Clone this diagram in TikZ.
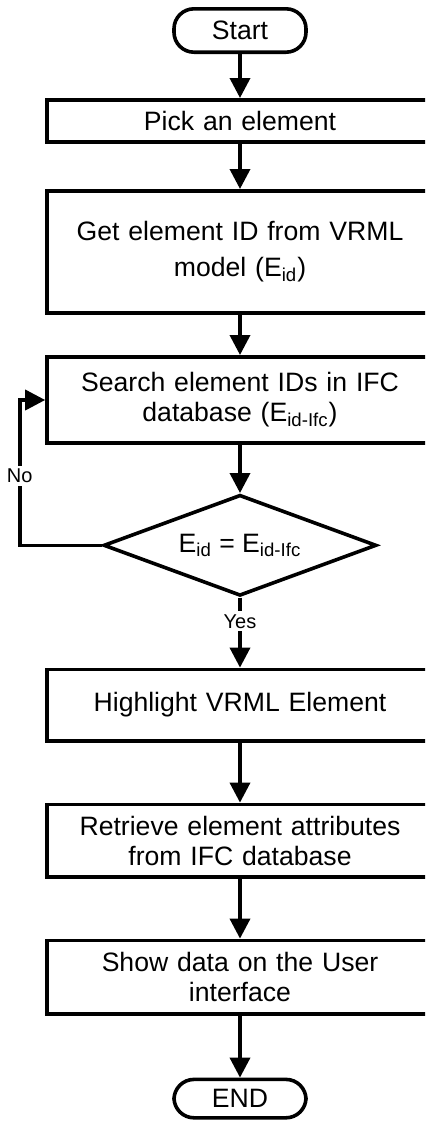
\documentclass[tikz,border=0pt]{standalone}
\usepackage{fontspec}
\setmainfont{Liberation Sans}
\usetikzlibrary{shapes.geometric,arrows.meta,positioning}
\tikzset{
  procnode/.style={rectangle,draw=black,line width=1.8pt,minimum width=193pt,
    text width=185pt,align=center,font=\fontsize{13.3}{15}\selectfont,inner sep=3pt},
  termnode/.style={rectangle,draw=black,line width=1.8pt,rounded corners=10pt,
    minimum width=66pt,minimum height=21.7pt,font=\fontsize{13.3}{15}\selectfont},
  decnode/.style={diamond,draw=black,line width=1.8pt,aspect=2.65,minimum width=136.5pt,
    minimum height=50.5pt,inner sep=0pt,font=\fontsize{13.3}{15}\selectfont},
  lbl/.style={fill=white,font=\fontsize{10}{12}\selectfont,inner sep=1.5pt},
  arrow/.style={-{Triangle[length=10pt,width=10pt]},line width=1.8pt},
}

\begin{document}
\begin{tikzpicture}
  \useasboundingbox (0,0) rectangle (212.5pt,-560.5pt);
  \clip (0,0) rectangle (212.5pt,-560.5pt);

  \node[termnode] (start) at (120pt,-15.25pt) {Start};
  \node[procnode, minimum height=21.2pt, below=22pt of start] (pick) {Pick an element};
  \node[procnode, minimum height=61.2pt, below=22.5pt of pick] (getid)
    {Get element ID from VRML\\[3pt] model (E\textsubscript{id})};
  \node[procnode, minimum height=43.2pt, below=20pt of getid] (search)
    {Search element IDs in IFC\\ database (E\textsubscript{id-Ifc})};
  \node[decnode, below=24pt of search] (match)
    {E\textsubscript{id} = E\textsubscript{id-Ifc}};
  \node[procnode, minimum height=35.7pt, below=35pt of match] (light)
    {Highlight VRML Element};
  \node[procnode, minimum height=36.2pt, below=30pt of light] (fetch)
    {Retrieve element attributes\\ from IFC database};
  \node[procnode, minimum height=36.7pt, below=30pt of fetch] (show)
    {Show data on the User\\ interface};
  \node[termnode, minimum height=19.2pt, below=31pt of show] (finish) {END};

  \draw[arrow] (start)--(pick);
  \draw[arrow] (pick)--(getid);
  \draw[arrow] (getid)--(search);
  \draw[arrow] (search)--(match);
  \draw[arrow] (match.south) -- node[lbl,pos=0.34] {Yes} (light.north);
  \draw[arrow] (light)--(fetch);
  \draw[arrow] (fetch)--(show);
  \draw[arrow] (show)--(finish);

  % loop back when the IDs differ
  \draw[arrow] (match.west) -- ++(-41pt,0) |- node[lbl,pos=0.24] {No} (search.west);
\end{tikzpicture}
\end{document}
